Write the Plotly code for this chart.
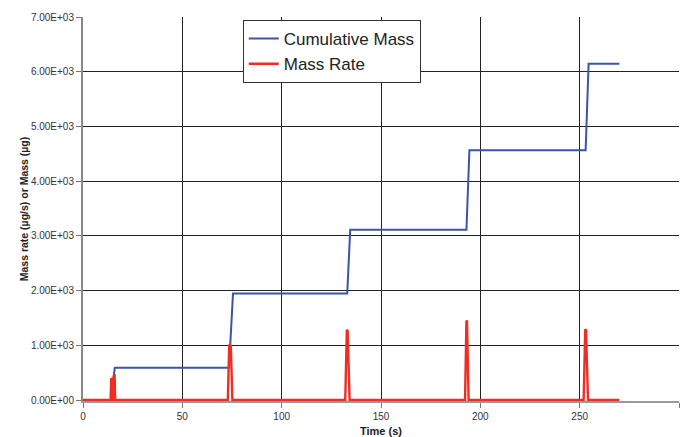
import plotly.graph_objects as go

# Cumulative mass (step curve vertices)
cum_time = [0, 14, 16, 73.5, 75.5, 133, 134.5, 193, 194.5, 253, 254.5, 270]
cum_mass = [0, 0, 590, 590, 1945, 1945, 3110, 3110, 4565, 4565, 6145, 6145]

# Mass rate (spikes)
rate_time = [0, 13.9, 14.2, 14.6, 14.9, 15.2, 15.5, 15.9, 16.2,
             72.9, 73.6, 74.0, 74.4, 75.2,
             132.0, 132.8, 133.2, 134.2,
             192.3, 193.0, 193.3, 194.1,
             252.0, 252.8, 253.2, 254.2, 270]
rate_val = [0, 0, 384, 384, 0, 0, 440, 475, 0,
            0, 1000, 1005, 990, 0,
            0, 1280, 1270, 0,
            0, 1450, 1440, 0,
            0, 1292, 1280, 0, 0]

y_ticks = [0, 1000, 2000, 3000, 4000, 5000, 6000, 7000]
y_tick_text = ["0.00E+00", "1.00E+03", "2.00E+03", "3.00E+03",
               "4.00E+03", "5.00E+03", "6.00E+03", "7.00E+03"]
x_ticks = [0, 50, 100, 150, 200, 250, 300]

fig = go.Figure()
fig.add_trace(go.Scatter(x=cum_time, y=cum_mass, mode="lines",
                         name="Cumulative Mass",
                         line=dict(color="#3A55A4", width=2)))
fig.add_trace(go.Scatter(x=rate_time, y=rate_val, mode="lines",
                         name="Mass Rate",
                         line=dict(color="#EE2E24", width=2.4)))

fig.update_layout(
    width=685, height=437,
    margin=dict(l=83, r=6, t=17, b=36, autoexpand=False),
    paper_bgcolor="white", plot_bgcolor="white",
    font=dict(family="Liberation Sans, Arial, sans-serif", color="#333333", size=10),
    showlegend=True,
    legend=dict(x=0.268, y=0.992, xanchor="left", yanchor="top",
                bgcolor="white", bordercolor="#333333", borderwidth=1,
                font=dict(size=17, color="#222222"),
                itemwidth=30, tracegroupgap=0),
)
fig.update_xaxes(range=[0, 300], tickvals=x_ticks, ticks="outside", ticklen=5,
                 tickcolor="#777777", automargin=False,
                 showgrid=True, gridcolor="#222222", gridwidth=1,
                 showline=True, linecolor="#999999", linewidth=1.5, mirror=False,
                 zeroline=False, layer="below traces",
                 title=dict(text="<b>Time (s)</b>", font=dict(size=11, color="#222222"), standoff=8),
                 tickfont=dict(size=10, color="#333333"))
fig.update_yaxes(range=[-18, 7000], tickvals=y_ticks, ticktext=y_tick_text,
                 ticks="outside", ticklen=5, tickcolor="#777777", automargin=False,
                 showgrid=True, gridcolor="#222222", gridwidth=1,
                 showline=True, linecolor="#888888", linewidth=2,
                 zeroline=False, layer="below traces",
                 title=dict(text="<b>Mass rate (µg/s) or Mass (µg)</b>", font=dict(size=10.5, color="#222222"), standoff=0),
                 tickfont=dict(size=10, color="#333333"))

fig.write_html("out.html", config={"displayModeBar": False},
               post_script="document.body.style.margin='0px';")
